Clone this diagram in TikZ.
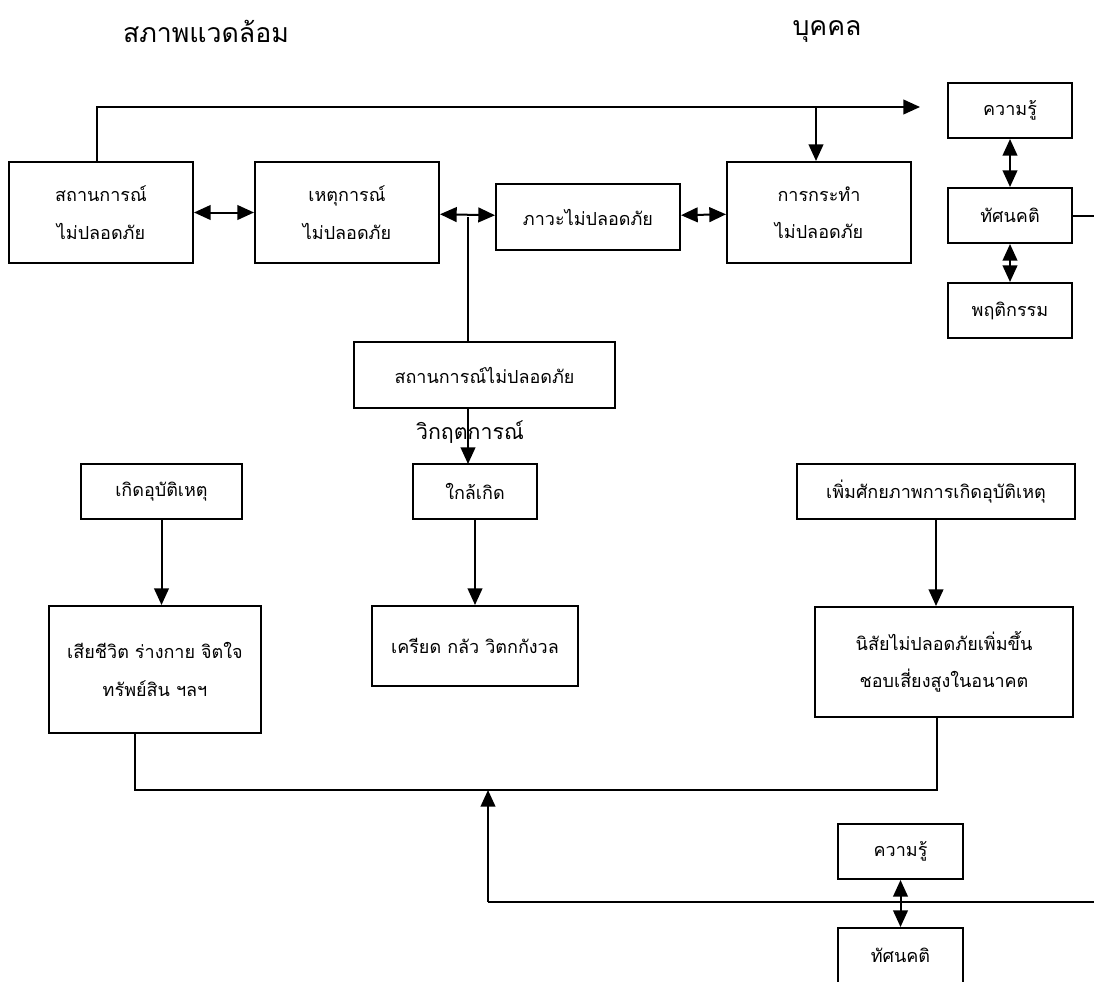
\documentclass[tikz,border=0pt]{standalone}
\usepackage{fontspec}
\newfontfamily\thaifont[Script=Thai]{Loma}
\usetikzlibrary{arrows.meta}

\begin{document}
\begin{tikzpicture}[x=0.75pt,y=-0.75pt,line width=1.5pt,
    box/.style={draw,rectangle,align=center,inner sep=2pt,
      font=\thaifont\fontsize{13.5}{28}\selectfont},
    title/.style={font=\thaifont\fontsize{20}{24}\selectfont},
    lbl/.style={font=\thaifont\fontsize{16}{20}\selectfont,inner sep=0pt},
    >={Triangle[length=12.5pt,width=11pt]}]
  \useasboundingbox (0,0) rectangle (1094,981);
  \clip (0,0) rectangle (1094,981);
  % headings
  \node[title] (env) at (206,31) {สภาพแวดล้อม};
  \node[title] (per) at (827,31) {บุคคล};
  % top row
  \node[box,minimum width=138pt,minimum height=75.75pt] (sit) at (101,212.5)
    {สถานการณ์\\ไม่ปลอดภัย};
  \node[box,minimum width=138pt,minimum height=75.75pt] (evt) at (347,212.5)
    {เหตุการณ์\\ไม่ปลอดภัย};
  \node[box,minimum width=138pt,minimum height=49.5pt] (cond) at (588,217)
    {ภาวะไม่ปลอดภัย};
  \node[box,minimum width=138pt,minimum height=75.75pt] (act) at (819,212.5)
    {การกระทำ\\ไม่ปลอดภัย};
  \node[box,minimum width=93pt,minimum height=41.25pt] (know) at (1010,110.5)
    {ความรู้};
  \node[box,minimum width=93pt,minimum height=41.25pt] (att) at (1010,215.5)
    {ทัศนคติ};
  \node[box,minimum width=93pt,minimum height=41.25pt] (beh) at (1010,310.5)
    {พฤติกรรม};
  \draw[<->] (sit) -- (evt);
  \draw[<->] (evt) -- (cond);
  \draw[<->] (cond) -- (act);
  \draw[<->] (know) -- (att);
  \draw[<->] (att) -- (beh);
  \coordinate (tl) at (97,107); \coordinate (tip) at (920,107);
  \coordinate (br) at (816,107); \coordinate (re) at (1094,215.5);
  \draw[->] (tl |- sit.north) -- (tl) -- (tip);
  \draw[->] (br) -- (br |- act.north);
  \draw (att.east) -- (re);
  % crisis
  \node[box,minimum width=195.75pt,minimum height=49.5pt] (crisis) at (484.5,375)
    {สถานการณ์ไม่ปลอดภัย};
  \coordinate (j) at (468,217);
  \draw (j) -- (j |- crisis.north);
  \draw[->] (j |- crisis.south) -- (j |- 0,464);
  \node[lbl] (crlbl) at (470,432) {วิกฤตการณ์};
  % outcomes
  \node[box,minimum width=120.75pt,minimum height=41.25pt] (acc) at (161.5,491.5)
    {เกิดอุบัติเหตุ};
  \node[box,minimum width=93pt,minimum height=41.25pt] (near) at (475,491.5)
    {ใกล้เกิด};
  \node[box,minimum width=208.5pt,minimum height=41.25pt] (pot) at (936,491.5)
    {เพิ่มศักยภาพการเกิดอุบัติเหตุ};
  \node[box,minimum width=159pt,minimum height=95.25pt] (loss) at (155,669.5)
    {เสียชีวิต ร่างกาย จิตใจ\\ทรัพย์สิน ฯลฯ};
  \node[box,minimum width=154.5pt,minimum height=60pt] (stress) at (475,646)
    {เครียด กลัว วิตกกังวล};
  \node[box,minimum width=193.5pt,minimum height=82.5pt] (habit) at (944,662)
    {นิสัยไม่ปลอดภัยเพิ่มขึ้น\\ชอบเสี่ยงสูงในอนาคต};
  \draw[->] (acc.south) -- (acc.south |- loss.north);
  \draw[->] (near) -- (stress);
  \draw[->] (pot.south) -- (pot.south |- habit.north);
  % feedback
  \coordinate (lb) at (135,790); \coordinate (rb) at (937,790);
  \coordinate (fb) at (488,902); \coordinate (fe) at (1094,902);
  \draw (lb |- loss.south) -- (lb) -- (rb) -- (rb |- habit.south);
  \draw[->] (fb) -- (fb |- lb);
  \draw (fb) -- (fe);
  \node[box,minimum width=93.75pt,minimum height=41.25pt] (know2) at (900.5,851.5)
    {ความรู้};
  \node[box,minimum width=93.75pt,minimum height=41.25pt] (att2) at (900.5,955.5)
    {ทัศนคติ};
  \draw[<->] (know2) -- (att2);
\end{tikzpicture}
\end{document}
